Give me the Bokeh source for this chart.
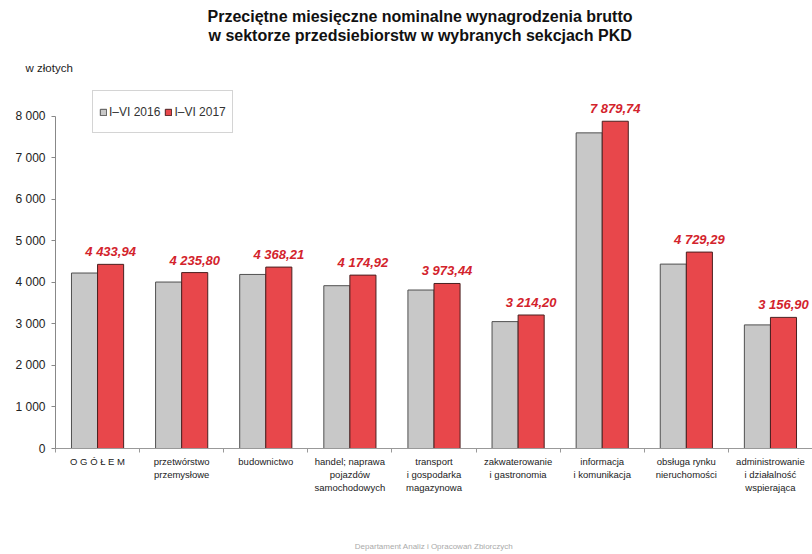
from bokeh.plotting import figure
from bokeh.models import ColumnDataSource, Range1d, FixedTicker, Title
from bokeh.transform import dodge
from bokeh.core.properties import value
from bokeh.embed import file_html
from bokeh.resources import INLINE

# ---- data ----
categories = [
    "O G Ó Ł E M",
    "przetwórstwo\nprzemysłowe",
    "budownictwo",
    "handel; naprawa\npojazdów\nsamochodowych",
    "transport\ni gospodarka\nmagazynowa",
    "zakwaterowanie\ni gastronomia",
    "informacja\ni komunikacja",
    "obsługa rynku\nnieruchomości",
    "administrowanie\ni działalność\nwspierająca",
]
v2016 = [4225, 4008, 4191, 3920, 3816, 3055, 7600, 4440, 2976]
v2017 = [4433.94, 4235.80, 4368.21, 4174.92, 3973.44, 3214.20, 7879.74, 4729.29, 3156.90]
series = ["I–VI 2016", "I–VI 2017"]
y_ticks = [0, 1000, 2000, 3000, 4000, 5000, 6000, 7000, 8000]
title_lines = ["Przeciętne miesięczne nominalne wynagrodzenia brutto",
               "w sektorze przedsiebiorstw w wybranych sekcjach PKD"]
unit_label = "w złotych"
footer = "Departament Analiz i Opracowań Zbiorczych"

FONT = "Liberation Sans"
GRAY = "#c8c8c8"
RED = "#e8474b"
LABEL_RED = "#d3232c"


def pl_fmt(v):
    return f"{v:,.2f}".replace(",", " ").replace(".", ",")


def pl_int(v):
    return f"{v:,d}".replace(",", " ")


centers = [i + 0.5 for i in range(len(categories))]
bounds = [i for i in range(len(categories) + 1)]

src = ColumnDataSource(dict(
    x=centers,
    v2016=v2016,
    v2017=v2017,
    lbl=[pl_fmt(v) for v in v2017],
))

p = figure(width=812, height=554, output_backend="svg", toolbar_location=None,
           title_location=None,
           x_range=Range1d(0, len(categories)), y_range=Range1d(0, 8620),
           min_border_left=55, min_border_right=0, min_border_top=90, min_border_bottom=106)
p.outline_line_color = None
p.xgrid.grid_line_color = None
p.ygrid.grid_line_color = None
p.background_fill_color = "white"
p.border_fill_color = "white"

bw = 0.31
p.vbar(x=dodge("x", -bw / 2, range=p.x_range), top="v2016", width=bw, source=src,
       fill_color=GRAY, line_color="#505050", line_width=1, legend_label=series[0])
p.vbar(x=dodge("x", bw / 2, range=p.x_range), top="v2017", width=bw, source=src,
       fill_color=RED, line_color="#4a2020", line_width=1, legend_label=series[1])

p.text(x=dodge("x", bw / 2, range=p.x_range), y="v2017", text="lbl", source=src,
       text_align="center", text_baseline="bottom", y_offset=-5,
       text_font=value(FONT), text_font_style="bold italic", text_font_size="13px",
       text_color=LABEL_RED)

# x axis (its axis label carries the footer note)
xa = p.xaxis[0]
xa.ticker = FixedTicker(ticks=centers, minor_ticks=bounds)
xa.major_label_overrides = {c: lab for c, lab in zip(centers, categories)}
xa.major_tick_line_color = None
xa.minor_tick_in = 0
xa.minor_tick_out = 4
xa.minor_tick_line_color = "#999999"
xa.axis_line_color = "#999999"
xa.major_label_text_font = FONT
xa.major_label_text_font_size = "9.5px"
xa.major_label_text_color = "#222222"
xa.major_label_standoff = 1
xa.axis_label = footer
xa.axis_label_text_font = FONT
xa.axis_label_text_font_size = "8px"
xa.axis_label_text_font_style = "normal"
xa.axis_label_text_color = "#aaaaaa"
xa.axis_label_standoff = 46

# y axis
ya = p.yaxis[0]
ya.ticker = FixedTicker(ticks=y_ticks)
ya.major_label_overrides = {t: pl_int(t) for t in y_ticks}
ya.bounds = (y_ticks[0], y_ticks[-1])
ya.major_tick_in = 0
ya.major_tick_out = 4
ya.minor_tick_line_color = None
ya.major_tick_line_color = "#888888"
ya.axis_line_color = "#888888"
ya.major_label_text_font = FONT
ya.major_label_text_font_size = "12px"
ya.major_label_text_color = "#222222"
ya.major_label_standoff = 6

# legend
lg = p.legend[0]
lg.orientation = "horizontal"
lg.location = (37, 315)
lg.label_text_font = FONT
lg.label_text_font_size = "12px"
lg.label_text_color = "#333333"
lg.glyph_width = 8
lg.glyph_height = 8
lg.label_standoff = 2
lg.label_height = 29
lg.spacing = 4
lg.padding = 6
lg.margin = 0
lg.border_line_color = "#aaaaaa"
lg.border_line_width = 1
lg.background_fill_alpha = 1

# titles (later additions are placed further from the frame)
p.add_layout(Title(text=unit_label, align="left", offset=-30, standoff=33,
                   text_font=FONT, text_font_style="normal", text_font_size="11.5px",
                   text_color="#222222"), "above")
p.add_layout(Title(text=title_lines[1], align="left", offset=153, standoff=0,
                   text_font=FONT, text_font_style="bold", text_font_size="16px",
                   text_color="#111111"), "above")
p.add_layout(Title(text=title_lines[0], align="left", offset=152, standoff=0,
                   text_font=FONT, text_font_style="bold", text_font_size="16px",
                   text_color="#111111"), "above")

open("out.html", "w").write(file_html(p, INLINE))
